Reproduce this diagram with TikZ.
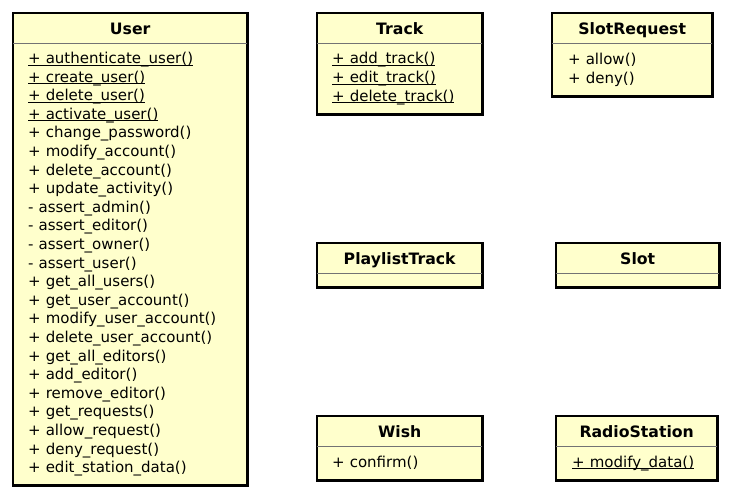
\documentclass[tikz,border=0pt]{standalone}
\usepackage{fontspec}
\setmainfont{DejaVu Sans}
\usepackage{tikz}
\usetikzlibrary{positioning}
\definecolor{classfill}{HTML}{FFFFCC}

% static operations are underlined just under the baseline
\newlength\staticwd
\newcommand\staticop[1]{\settowidth\staticwd{#1}\makebox[0pt][l]{\rule[-2pt]{\staticwd}{0.9pt}}#1}

\begin{document}
\begin{tikzpicture}[
  x=1pt, y=1pt,
  head/.style={fill=classfill, anchor=north west, inner sep=0pt, minimum height=29.5pt,
               text height=14pt, text depth=0pt,
               font=\fontsize{15.7pt}{18.6pt}\selectfont\bfseries},
  ops/.style={fill=classfill, align=left, inner xsep=15pt, inner ysep=0pt,
              font=\fontsize{15pt}{18.6pt}\selectfont},
  frame/.style={draw=black, line width=2.6pt},
  sep/.style={draw=black!55, line width=0.8pt}
]
  \useasboundingbox (0,0) rectangle (733,-498);

  % User
  \node[head, minimum width=234pt] (user) at (13,-13) {User};
  \node[ops, text width=204pt, minimum height=442pt, below=0pt of user] (userops) {%
    \staticop{+ authenticate\_user()}\\
    \staticop{+ create\_user()}\\
    \staticop{+ delete\_user()}\\
    \staticop{+ activate\_user()}\\
    + change\_password()\\
    + modify\_account()\\
    + delete\_account()\\
    + update\_activity()\\
    - assert\_admin()\\
    - assert\_editor()\\
    - assert\_owner()\\
    - assert\_user()\\
    + get\_all\_users()\\
    + get\_user\_account()\\
    + modify\_user\_account()\\
    + delete\_user\_account()\\
    + get\_all\_editors()\\
    + add\_editor()\\
    + remove\_editor()\\
    + get\_requests()\\
    + allow\_request()\\
    + deny\_request()\\
    + edit\_station\_data()};
  \draw[frame] (user.north west) rectangle (userops.south east);
  \draw[sep] (userops.north west) -- (userops.north east);

  % Track
  \node[head, minimum width=165pt] (track) at (317,-13) {Track};
  \node[ops, text width=135pt, minimum height=71pt, below=0pt of track] (trackops) {%
    \staticop{+ add\_track()}\\
    \staticop{+ edit\_track()}\\
    \staticop{+ delete\_track()}};
  \draw[frame] (track.north west) rectangle (trackops.south east);
  \draw[sep] (trackops.north west) -- (trackops.north east);

  % SlotRequest
  \node[head, minimum width=160pt] (slotrequest) at (552,-13) {SlotRequest};
  \node[ops, inner xsep=16pt, text width=128pt, minimum height=53pt, below=0pt of slotrequest] (slotrequestops) {%
    + allow()\\
    + deny()};
  \draw[frame] (slotrequest.north west) rectangle (slotrequestops.south east);
  \draw[sep] (slotrequestops.north west) -- (slotrequestops.north east);

  % PlaylistTrack
  \node[head, minimum width=165pt] (playlisttrack) at (317,-243) {PlaylistTrack};
  \node[ops, minimum width=165pt, minimum height=14pt, below=0pt of playlisttrack] (playlisttrackops) {};
  \draw[frame] (playlisttrack.north west) rectangle (playlisttrackops.south east);
  \draw[sep] (playlisttrackops.north west) -- (playlisttrackops.north east);

  % Slot
  \node[head, minimum width=163pt] (slot) at (556,-243) {Slot};
  \node[ops, minimum width=163pt, minimum height=14pt, below=0pt of slot] (slotops) {};
  \draw[frame] (slot.north west) rectangle (slotops.south east);
  \draw[sep] (slotops.north west) -- (slotops.north east);

  % Wish
  \node[head, minimum width=165pt] (wish) at (317,-416) {Wish};
  \node[ops, text width=135pt, minimum height=34pt, below=0pt of wish] (wishops) {%
    + confirm()};
  \draw[frame] (wish.north west) rectangle (wishops.south east);
  \draw[sep] (wishops.north west) -- (wishops.north east);

  % RadioStation
  \node[head, minimum width=161pt] (radiostation) at (556,-416) {RadioStation};
  \node[ops, inner xsep=16pt, text width=129pt, minimum height=34pt, below=0pt of radiostation] (radiostationops) {%
    \staticop{+ modify\_data()}};
  \draw[frame] (radiostation.north west) rectangle (radiostationops.south east);
  \draw[sep] (radiostationops.north west) -- (radiostationops.north east);
\end{tikzpicture}
\end{document}
